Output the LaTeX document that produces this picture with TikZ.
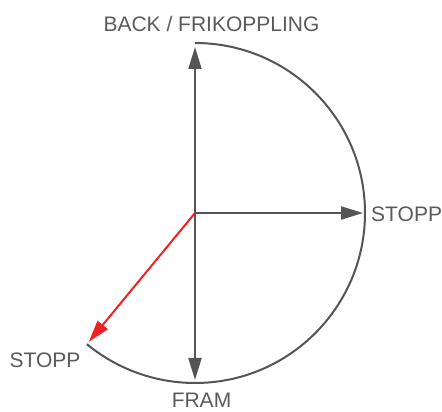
\documentclass[tikz,border=0pt]{standalone}
\usepackage{fontspec}
\setmainfont{Liberation Sans}
\usetikzlibrary{arrows.meta,calc}
\definecolor{ln}{HTML}{555555}
\definecolor{tx}{HTML}{5A5A5A}
\definecolor{rd}{HTML}{EE2222}
\begin{document}
\begin{tikzpicture}[x=1pt,y=1pt,
  axis/.style={draw=ln,line width=2pt,-{Triangle[length=22pt,width=13pt]}},
  redarrow/.style={draw=rd,line width=2pt,-{Triangle[length=22pt,width=13pt]}},
  lbl/.style={inner sep=0pt,text=tx,font=\fontsize{21}{24}\selectfont}]
\useasboundingbox (0,0) rectangle (442,412);
\coordinate (C) at (195,199);
\coordinate (T) at (195,365);
\coordinate (R) at (363,199);
\coordinate (B) at (195,32);
\coordinate (E) at ($(C)+(230.5:170)$);
\coordinate (Etip) at ($(C)+(230.5:167)$);
\coordinate (A0) at (195,369);
% arc
\draw[ln,line width=2pt] (A0) arc[start angle=90,end angle=-129.5,radius=170];
\draw[axis] (C) -- (T);
\draw[axis] (C) -- (B);
\draw[axis] (C) -- (R);
\draw[redarrow] (C) -- (Etip);
% labels
\node[lbl,anchor=base] (lb) at (211.5,380) {BACK / FRIKOPPLING};
\node[lbl,anchor=base west] (lr) at (371,190) {STOPP};
\node[lbl,anchor=base] (ll) at (45,44) {STOPP};
\node[lbl,anchor=base] (lf) at (201.5,4) {FRAM};
\end{tikzpicture}
\end{document}
